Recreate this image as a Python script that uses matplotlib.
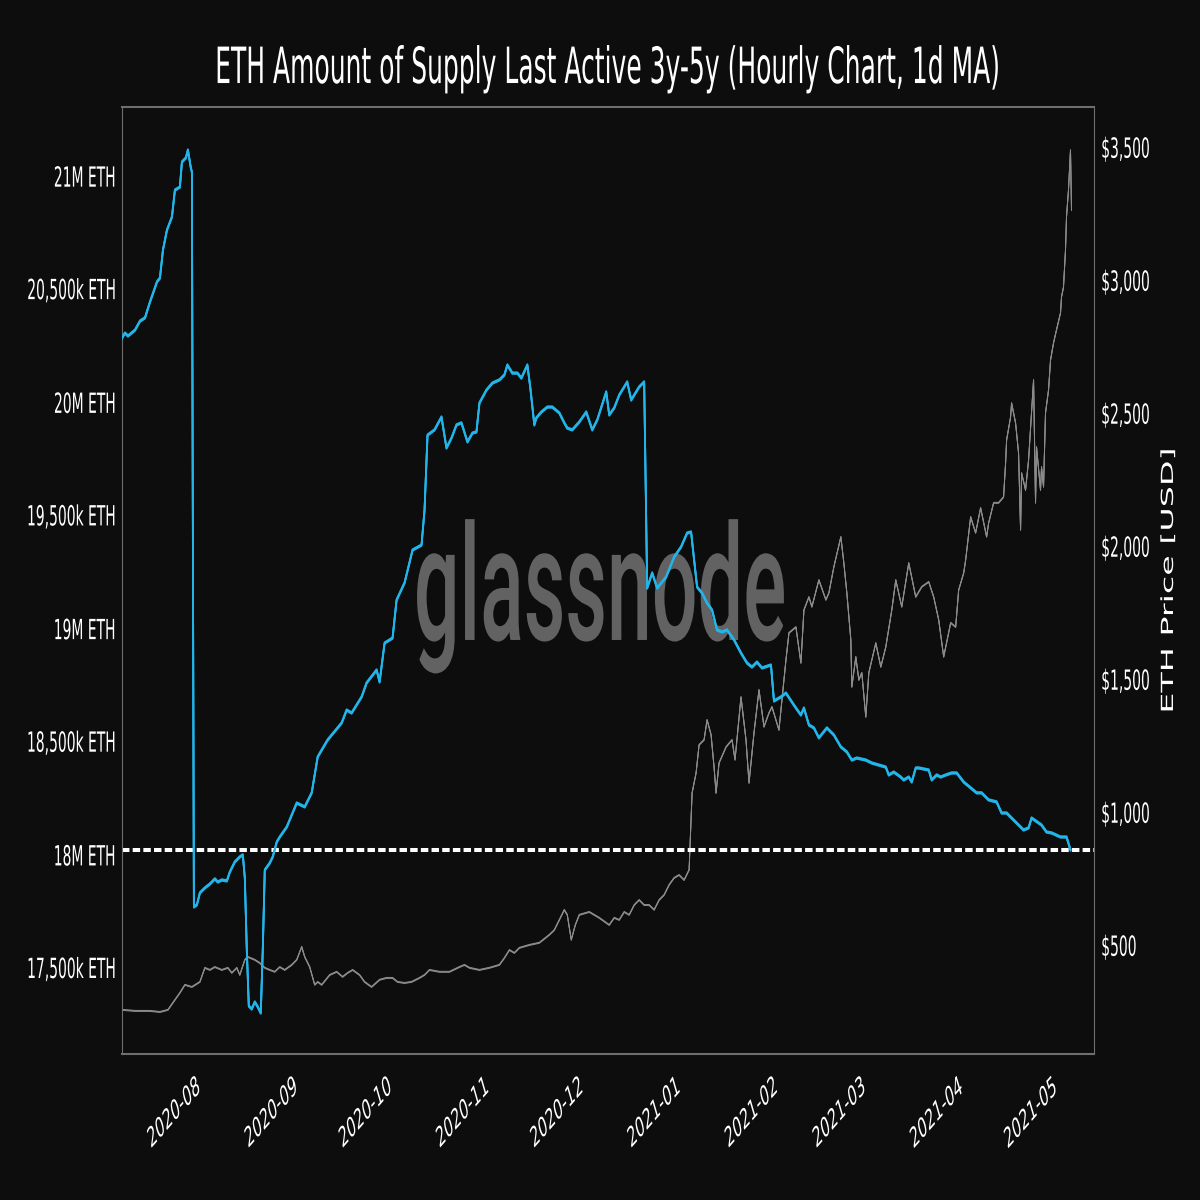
import matplotlib
matplotlib.use("Agg")
import matplotlib.pyplot as plt
import pandas as pd
from matplotlib import patheffects
from matplotlib.patheffects import AbstractPathEffect
from matplotlib.transforms import Affine2D

# ---------------- data ----------------
TITLE = "ETH Amount of Supply Last Active 3y-5y (Hourly Chart, 1d MA)"
WATERMARK = "glassnode"
Y_LABEL_RIGHT = "ETH Price [USD]"
START = pd.Timestamp("2020-07-06 12:00")      # first data point
X_END = pd.Timestamp("2021-05-12 06:00")      # right edge of x axis

# supply last active 3y-5y (millions of ETH); x = days since START
supply_days = [0, 0.95, 1.91, 4.14, 5.73, 7.32, 8.91, 11.14, 12.09, 13.05,
               14.32, 15.91, 16.86, 18.45, 19.09, 20.36, 21.0, 21.95, 22.27, 22.91,
               23.86, 24.82, 26.41, 28.0, 29.59, 30.54, 31.82, 33.41, 34.36, 35.95,
               37.54, 38.5, 39.14, 39.77, 40.41, 41.36, 42.32, 43.27, 44.22, 44.86,
               45.5, 47.09, 48.04, 49.32, 50.27, 52.5, 55.68, 58.23, 60.45, 62.36,
               65.54, 70.0, 71.59, 73.18, 76.36, 77.95, 81.13, 82.09, 83.68, 86.22,
               87.5, 90.04, 92.59, 95.45, 96.41, 97.36, 99.59, 101.81, 103.4, 105.0,
               106.59, 108.18, 110.09, 111.68, 112.95, 113.91, 116.13, 118.04, 120.27, 121.86,
               122.81, 124.4, 126.0, 127.27, 129.18, 130.13, 131.4, 132.04, 133.63, 135.54,
               137.13, 139.36, 140.95, 141.9, 143.49, 145.72, 147.95, 149.86, 151.45, 154.31,
               155.27, 156.86, 158.45, 161.0, 162.27, 164.81, 166.4, 167.36, 168.95, 170.54,
               173.4, 175.95, 178.17, 180.08, 181.35, 183.26, 184.85, 186.44, 188.04, 189.63,
               191.22, 192.81, 195.04, 197.26, 199.17, 200.76, 202.35, 203.95, 206.81, 207.76,
               209.99, 211.58, 214.76, 216.35, 217.31, 218.9, 220.49, 222.08, 224.63, 226.85,
               229.08, 230.99, 232.58, 234.17, 237.03, 238.94, 241.17, 243.39, 244.35, 245.94,
               248.17, 249.12, 250.72, 251.67, 252.94, 253.9, 257.08, 258.03, 259.62, 260.9,
               262.49, 264.4, 265.99, 268.22, 270.44, 272.35, 273.94, 276.17, 278.71, 280.3,
               281.9, 284.76, 287.31, 288.9, 289.85, 292.08, 293.03, 294.62, 296.21, 299.08,
               300.99, 302.26]
supply_m = [20.284, 20.306, 20.293, 20.319, 20.359, 20.373, 20.443, 20.532, 20.549, 20.673,
            20.761, 20.819, 20.938, 20.951, 21.062, 21.080, 21.115, 21.035, 21.018, 17.770,
            17.779, 17.832, 17.854, 17.871, 17.894, 17.880, 17.889, 17.885, 17.924, 17.969,
            17.991, 18.000, 17.898, 17.580, 17.332, 17.319, 17.350, 17.328, 17.301, 17.580,
            17.933, 17.964, 17.991, 18.057, 18.079, 18.123, 18.229, 18.212, 18.274, 18.433,
            18.508, 18.583, 18.640, 18.627, 18.698, 18.760, 18.817, 18.764, 18.936, 18.958,
            19.126, 19.202, 19.347, 19.369, 19.524, 19.855, 19.878, 19.935, 19.798, 19.842,
            19.900, 19.909, 19.825, 19.864, 19.869, 19.997, 20.054, 20.085, 20.099, 20.121,
            20.165, 20.129, 20.129, 20.107, 20.165, 20.063, 19.900, 19.931, 19.957, 19.979,
            19.979, 19.953, 19.909, 19.886, 19.878, 19.913, 19.957, 19.878, 19.922, 20.046,
            19.944, 19.975, 20.032, 20.090, 20.010, 20.068, 20.090, 19.179, 19.246, 19.179,
            19.228, 19.316, 19.361, 19.422, 19.427, 19.184, 19.157, 19.113, 19.082, 18.994,
            18.985, 18.994, 18.950, 18.892, 18.848, 18.830, 18.852, 18.826, 18.839, 18.680,
            18.698, 18.715, 18.649, 18.618, 18.649, 18.574, 18.561, 18.517, 18.561, 18.530,
            18.477, 18.455, 18.419, 18.428, 18.419, 18.406, 18.397, 18.388, 18.353, 18.366,
            18.344, 18.331, 18.344, 18.322, 18.384, 18.384, 18.375, 18.331, 18.353, 18.344,
            18.353, 18.362, 18.362, 18.322, 18.296, 18.274, 18.274, 18.243, 18.234, 18.185,
            18.185, 18.145, 18.110, 18.119, 18.163, 18.141, 18.132, 18.101, 18.097, 18.079,
            18.079, 18.022]

# ETH price (USD); x = days since START
price_days = [0, 4.14, 8.91, 12.09, 14.64, 16.86, 18.45, 20.04, 22.27, 24.82,
              26.41, 28.0, 29.59, 31.82, 33.73, 35.0, 36.59, 37.54, 39.13, 40.09,
              42.32, 43.91, 45.5, 47.09, 48.68, 50.27, 51.86, 54.09, 55.68, 57.27,
              58.23, 59.82, 61.41, 62.36, 63.63, 66.18, 68.41, 70.31, 71.91, 73.5,
              75.72, 77.31, 79.54, 82.09, 84.31, 86.22, 87.81, 90.04, 92.27, 94.81,
              96.4, 97.99, 101.18, 104.36, 107.54, 109.13, 110.72, 113.9, 117.09, 120.27,
              121.86, 123.45, 125.04, 126.63, 129.81, 132.99, 136.18, 137.77, 139.36, 140.95,
              141.9, 143.17, 144.45, 145.72, 148.9, 152.08, 155.27, 156.86, 158.45, 160.04,
              161.63, 163.22, 164.81, 166.4, 167.99, 169.58, 171.17, 172.76, 174.36, 175.95,
              177.54, 179.13, 180.72, 181.67, 182.95, 183.9, 185.49, 186.45, 187.72, 188.67,
              189.31, 190.26, 192.49, 194.4, 195.35, 197.26, 198.85, 199.81, 201.4, 202.99,
              204.58, 206.17, 207.13, 209.35, 210.31, 211.58, 212.54, 214.76, 216.35, 217.31,
              218.9, 219.85, 222.08, 224.31, 225.26, 226.85, 229.08, 230.03, 230.99, 232.26,
              232.58, 233.85, 234.81, 235.76, 237.03, 237.99, 240.22, 241.81, 243.4, 245.31,
              246.58, 248.49, 250.72, 252.94, 254.85, 257.08, 258.67, 260.26, 261.85, 264.08,
              265.67, 266.62, 268.22, 268.85, 270.44, 272.03, 273.62, 275.53, 276.17, 277.76,
              279.35, 280.94, 281.58, 281.9, 283.17, 283.49, 284.76, 285.71, 286.35, 286.67,
              287.94, 288.9, 290.49, 291.12, 291.44, 292.71, 293.03, 293.67, 294.3, 295.26,
              295.9, 296.85, 297.8, 299.08, 299.4, 300.03, 300.67, 300.99, 301.62, 302.26,
              302.58]
price_usd = [260, 256, 256, 252, 260, 297, 324, 354, 346, 365,
             418, 410, 421, 410, 418, 399, 418, 391, 448, 459,
             448, 436, 418, 410, 403, 421, 410, 429, 448, 497,
             459, 421, 354, 365, 354, 391, 403, 384, 399, 410,
             391, 365, 346, 373, 380, 380, 365, 361, 365, 380,
             391, 410, 403, 403, 421, 429, 418, 410, 418, 429,
             455, 485, 474, 493, 504, 512, 542, 560, 598, 636,
             617, 523, 579, 617, 628, 606, 579, 606, 598, 628,
             617, 654, 673, 654, 654, 636, 673, 692, 730, 756,
             767, 748, 786, 1075, 1151, 1256, 1275, 1350, 1294, 1173,
             1075, 1188, 1248, 1275, 1200, 1436, 1275, 1113, 1301, 1463,
             1324, 1376, 1399, 1312, 1425, 1575, 1677, 1699, 1564, 1763,
             1812, 1775, 1876, 1801, 1827, 1925, 2038, 1940, 1827, 1651,
             1474, 1587, 1500, 1527, 1361, 1527, 1639, 1549, 1624, 1763,
             1876, 1775, 1940, 1812, 1850, 1869, 1812, 1726, 1587, 1715,
             1699, 1838, 1902, 1951, 2113, 2053, 2147, 2038, 2090, 2166,
             2166, 2188, 2316, 2402, 2489, 2541, 2466, 2353, 2064, 2278,
             2214, 2327, 2628, 2166, 2376, 2214, 2301, 2226, 2504, 2590,
             2703, 2767, 2816, 2880, 2940, 2977, 3117, 3241, 3342, 3492,
             3267]

supply_ticks = [17.5, 18.0, 18.5, 19.0, 19.5, 20.0, 20.5, 21.0]
supply_tick_labels = ["17,500k ETH", "18M ETH", "18,500k ETH", "19M ETH",
                      "19,500k ETH", "20M ETH", "20,500k ETH", "21M ETH"]
price_ticks = [500, 1000, 1500, 2000, 2500, 3000, 3500]
price_tick_labels = ["$500", "$1,000", "$1,500", "$2,000", "$2,500", "$3,000", "$3,500"]
month_ticks = pd.date_range("2020-08-01", "2021-05-01", freq="MS")
month_tick_labels = [d.strftime("%Y-%m") for d in month_ticks]

SUPPLY_LIM = (17.12, 21.305)
PRICE_LIM = (94, 3654)

# ---------------- style ----------------
BG = "#0d0d0d"
BLUE = "#22b5ea"
PRICE_GREY = "#8c8c8c"
SPINE = "#6e6e6e"
WM_GREY = "#626262"
plt.rcParams["font.family"] = ["DejaVu Sans"]


class VStretch(AbstractPathEffect):
    """Stretch drawn glyphs vertically (the reference has tall, narrow text)."""

    def __init__(self, sy=2.0, ref="center"):
        super().__init__()
        self.sy = sy
        self.ref = ref

    def draw_path(self, renderer, gc, tpath, affine, rgbFace=None):
        if self.ref == "baseline":
            y0 = affine.get_matrix()[1, 2]
        else:
            ext = affine.transform_path(tpath).get_extents()
            y0 = {"center": 0.5 * (ext.y0 + ext.y1), "top": ext.y1,
                  "bottom": ext.y0}[self.ref]
        extra = Affine2D().translate(0, -y0).scale(1, self.sy).translate(0, y0)
        renderer.draw_path(gc, tpath, affine + extra, rgbFace)


supply_x = (START + pd.to_timedelta(supply_days, unit="D")).to_pydatetime()
price_x = (START + pd.to_timedelta(price_days, unit="D")).to_pydatetime()

fig = plt.figure(figsize=(12, 12), dpi=100, facecolor=BG)
ax = fig.add_axes([122 / 1200, 146 / 1200, 972 / 1200, 947 / 1200])
ax2 = ax.twinx()
ax.set_zorder(ax2.get_zorder() + 1)
ax.patch.set_visible(False)
ax2.patch.set_facecolor(BG)

# price (right axis)
ax2.plot(price_x, price_usd, color=PRICE_GREY, lw=0.7, zorder=2,
         path_effects=[patheffects.Stroke(offset=(0, 0.35)),
                       patheffects.Stroke(offset=(0, -0.35)),
                       patheffects.Normal()])
ax2.set_ylim(*PRICE_LIM)

# watermark
wm = ax.text(0.4918, 0.4372, WATERMARK, transform=ax.transAxes, ha="center",
             va="baseline", fontsize=58, color=WM_GREY, zorder=1,
             family=["Roboto", "Liberation Sans", "DejaVu Sans"], fontweight="medium")
wm.set_path_effects([VStretch(2.0, "baseline")])

# supply (left axis)
ax.axhline(supply_m[-1], color="white", lw=2.9, ls=(0, (1.85, 0.8)), zorder=2)
ax.plot(supply_x, supply_m, color=BLUE, lw=1.3, zorder=3,
        path_effects=[patheffects.Stroke(offset=(0, 0.55)),
                      patheffects.Stroke(offset=(0, -0.55)),
                      patheffects.Normal()])
ax.set_ylim(*SUPPLY_LIM)
ax.set_xlim(START.to_pydatetime(), X_END.to_pydatetime())

# ticks
ax.set_yticks(supply_ticks)
ax.set_yticklabels(supply_tick_labels)
ax2.set_yticks(price_ticks)
ax2.set_yticklabels(price_tick_labels)
ax.set_xticks(month_ticks.to_pydatetime())
ax.set_xticklabels(month_tick_labels, rotation=30, ha="right")

ax.tick_params(axis="y", length=0, pad=4.7, labelsize=10, labelcolor="white")
ax.tick_params(axis="x", length=0, pad=14.5, labelsize=10, labelcolor="white")
ax2.tick_params(axis="y", length=0, pad=5.2, labelsize=10, labelcolor="white")

for lbl in ax.get_xticklabels():
    lbl.set_path_effects([VStretch(2.0, "top")])
for lbl in ax.get_yticklabels() + ax2.get_yticklabels():
    lbl.set_path_effects([VStretch(2.0, "center")])

# spines
for a in (ax, ax2):
    for s in a.spines.values():
        s.set_visible(False)
for name, s in ax.spines.items():
    s.set_visible(True)
    s.set_color(SPINE)
    s.set_linewidth(1.5 if name in ("top", "bottom") else 0.8)

# labels
ax2.set_ylabel(Y_LABEL_RIGHT, fontsize=12, color="white", va="center", ha="center")
ax2.yaxis.set_label_coords(1.0761, 0.5)
ax2.yaxis.label.set_path_effects([VStretch(2.0, "center")])

title = ax.set_title(TITLE, fontsize=18, color="white", y=1.0253, pad=0)
title.set_path_effects([VStretch(2.0, "baseline")])

fig.savefig("out.png", dpi=100, facecolor=BG)
